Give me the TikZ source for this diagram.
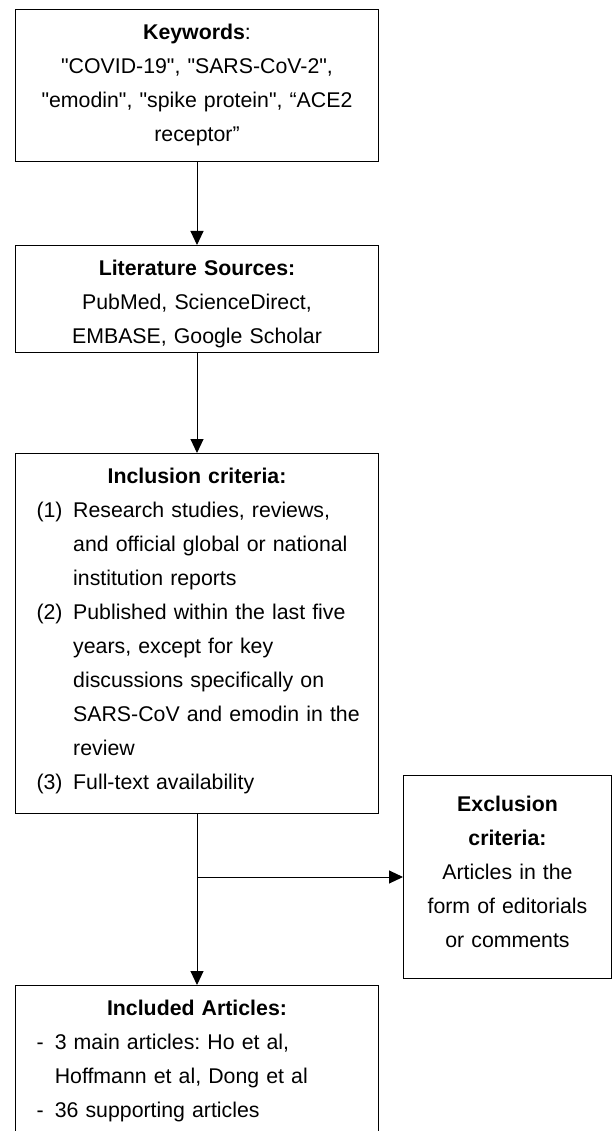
\documentclass[tikz,border=0pt]{standalone}
\usepackage{fontspec}
\setmainfont{Liberation Sans}[Ligatures=TeXOff]
\usetikzlibrary{arrows.meta}
\newcommand\lstlbl[2]{\hspace*{21pt}\makebox[#1][l]{#2}}
\newcommand\lstind[1]{\hspace*{#1}}
\begin{document}
\frenchspacing
\begin{tikzpicture}[x=1pt,y=-1pt,
  box/.style={draw, line width=1pt, inner sep=0pt, anchor=north west,
    text height=30pt, font=\fontsize{21.3}{34}\selectfont\frenchspacing},
  arr/.style={line width=1pt, -{Triangle[length=14pt,width=13pt]}}]
\useasboundingbox (0,0) rectangle (612,1131);
\fill[white] (0,0) rectangle (612,1131);
\clip (0,0) rectangle (612,1131);

\node[box, text width=363pt, align=center, text depth=122pt] (kw) at (15,9)
  {{\bfseries Keywords}:\\ "COVID-19", "SARS-CoV-2",\\ "emodin", "spike protein", “ACE2\\ receptor”};

\node[box, text width=363pt, align=center, text depth=77pt] (lit) at (15,245)
  {{\bfseries Literature Sources:}\\ PubMed, ScienceDirect,\\ EMBASE, Google Scholar};

\node[box, text width=363pt, align=left, text depth=330pt] (inc) at (15,453)
  {\makebox[\linewidth]{\bfseries Inclusion criteria:}\\
   \lstlbl{36.7pt}{(1)}Research studies, reviews,\\
   \lstind{57.7pt}and official global or national\\
   \lstind{57.7pt}institution reports\\
   \lstlbl{36.7pt}{(2)}Published within the last five\\
   \lstind{57.7pt}years, except for key\\
   \lstind{57.7pt}discussions specifically on\\
   \lstind{57.7pt}SARS-CoV and emodin in the\\
   \lstind{57.7pt}review\\
   \lstlbl{36.7pt}{(3)}Full-text availability};

\node[box, text width=363pt, align=left, text depth=130pt] (art) at (15,985)
  {\makebox[\linewidth]{\bfseries Included Articles:}\\
   \lstlbl{18.3pt}{-}3 main articles: Ho et al,\\
   \lstind{39.3pt}Hoffmann et al, Dong et al\\
   \lstlbl{18.3pt}{-}36 supporting articles};

\node[box, text width=208pt, align=center, text height=35.7pt, text depth=167.3pt] (exc) at (403,775)
  {{\bfseries Exclusion}\\ {\bfseries criteria:}\\ Articles in the\\ form of editorials\\ or comments};

\draw[arr] (kw.south) -- (lit.north);
\draw[arr] (lit.south) -- (inc.north);
\draw[arr] (inc.south) -- (art.north);
\coordinate (j) at (inc.south |- exc.west);
\draw[arr] (j) -- (exc.west);
\end{tikzpicture}
\end{document}
